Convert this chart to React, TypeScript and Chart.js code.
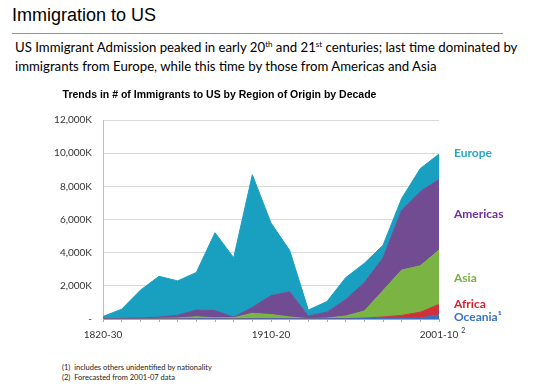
import React, { useEffect, useRef } from 'react';
import { Chart, registerables } from 'chart.js';

Chart.register(...registerables);

// ---- Data (thousands of immigrants per decade) ----
const decades = [
  '1820-30', '1831-40', '1841-50', '1851-60', '1861-70', '1871-80', '1881-90',
  '1891-00', '1901-10', '1910-20', '1921-30', '1931-40', '1941-50', '1951-60',
  '1961-70', '1971-80', '1981-90', '1991-00', '2001-10',
];
const shownTickIdx = [0, 9, 18];
const lastTickNote = '2';

const oceania = [0, 0, 0, 0, 0, 10, 10, 0, 12, 12, 9, 3, 14, 12, 25, 41, 42, 56, 250];
const africa = [0, 0, 0, 0, 0, 0, 0, 0, 7, 8, 6, 2, 7, 14, 29, 81, 176, 355, 630];
const asia = [0, 0, 0, 41, 64, 124, 70, 75, 324, 247, 112, 17, 37, 153, 428, 1588, 2738, 2796, 3280];
const americas = [11, 33, 62, 74, 166, 404, 426, 38, 362, 1144, 1517, 160, 355, 997, 1716, 1983, 3616, 4487, 4265];
const europe = [140, 560, 1670, 2460, 2070, 2270, 4700, 3580, 8000, 4380, 2500, 360, 640, 1320, 1160, 760, 700, 1385, 1525];

const seriesNames = ['Oceania', 'Africa', 'Asia', 'Americas', 'Europe'];
const fillColors = ['#3A6FC0', '#D0303A', '#7AB442', '#714C93', '#19A0C0'];

// right-side series labels
const sideLabels = ['Europe', 'Americas', 'Asia', 'Africa', 'Oceania\u00B9'];
const sideLabelColors = ['#2AA4C8', '#7030A0', '#77B340', '#DB1F2E', '#3A72C2'];
const sideLabelAnchorK = [10000, 6330, 2470, 905, 120];

const tickFont = { family: 'Lato, "Liberation Sans", sans-serif', size: 10 };

const sideLabelPlugin = {
  id: 'sideLabels',
  afterDraw(chart: any) {
    const { ctx, chartArea, scales } = chart;
    ctx.save();
    ctx.font = 'bold 12px Lato, "Liberation Sans", sans-serif';
    ctx.textBaseline = 'middle';
    ctx.textAlign = 'left';
    sideLabels.forEach((t, i) => {
      ctx.fillStyle = sideLabelColors[i];
      ctx.fillText(t, chartArea.right + 15, scales.y.getPixelForValue(sideLabelAnchorK[i]));
    });
    // superscript note on the last x tick label
    ctx.font = '10px Lato, "Liberation Sans", sans-serif';
    const last = decades.length - 1;
    const w = ctx.measureText(decades[last]).width;
    const x = scales.x.getPixelForValue(last) + w / 2 + 3;
    const yMid = scales.x.top + 3 + 7 + 6;
    ctx.font = '7px Lato, "Liberation Sans", sans-serif';
    ctx.fillStyle = '#333';
    ctx.fillText(lastTickNote, x, yMid - 4);
    ctx.restore();
  },
};

function ImmigrationChart() {
  const ref = useRef<HTMLCanvasElement | null>(null);
  useEffect(() => {
    if (!ref.current) return;
    const seriesData = [oceania, africa, asia, americas, europe];
    const chart = new Chart(ref.current, {
      type: 'line',
      data: {
        labels: decades,
        datasets: seriesData.map((d, i) => ({
          label: seriesNames[i],
          data: d,
          backgroundColor: fillColors[i],
          borderColor: fillColors[i],
          borderWidth: 1,
          pointRadius: 0,
          tension: 0,
          fill: i === 0 ? 'origin' : '-1',
        })),
      },
      options: {
        animation: false,
        responsive: false,
        maintainAspectRatio: false,
        layout: { padding: { left: 0, right: 106, top: 0, bottom: 0 } },
        plugins: {
          legend: { display: false },
          tooltip: { enabled: false },
          title: {
            display: true,
            text: 'Trends in # of Immigrants to US by Region of Origin by Decade',
            font: { family: '"Liberation Sans", Arial, sans-serif', size: 10.5, weight: 'bold' },
            color: '#000',
            padding: { top: 9, bottom: 18.5 },
          },
        },
        scales: {
          x: {
            type: 'category',
            offset: false,
            grid: { drawOnChartArea: false, drawTicks: true, tickLength: 3, color: '#a6a6a6' },
            border: { display: true, color: '#a6a6a6' },
            ticks: {
              autoSkip: false,
              maxRotation: 0,
              padding: 7,
              color: '#333',
              font: tickFont,
              callback: (_v: any, i: number) => (shownTickIdx.includes(i) ? decades[i] : ''),
            },
            afterFit: (s: any) => { s.height = 31; },
          },
          y: {
            stacked: true,
            min: 0,
            max: 12000,
            grid: { color: '#d9d9d9', drawTicks: false },
            border: { display: true, color: '#bfbfbf' },
            ticks: {
              stepSize: 2000,
              padding: 11,
              color: '#333',
              font: tickFont,
              callback: (v: any) => (v === 0 ? '-' : Number(v).toLocaleString('en-US') + 'K'),
            },
            afterFit: (s: any) => { s.width = 103; },
          },
        },
      },
      plugins: [sideLabelPlugin],
    } as any);
    return () => chart.destroy();
  }, []);
  return (
    <canvas
      ref={ref}
      width={545}
      height={270}
      style={{ position: 'absolute', left: 0, top: 80, width: 545, height: 270 }}
    />
  );
}

export default function App() {
  return (
    <div
      style={{
        position: 'absolute', left: 0, top: 0, width: 545, height: 388,
        background: '#fff', overflow: 'hidden',
      }}
    >
      <div
        style={{
          position: 'absolute', left: 12, top: 4, fontFamily: '"Liberation Sans", Arial, sans-serif',
          fontSize: 18, lineHeight: '22px', color: '#000', whiteSpace: 'nowrap',
        }}
      >
        Immigration to US
      </div>
      <div style={{ position: 'absolute', left: 12, top: 33, width: 491, height: 1, background: '#6E98DA' }} />
      <div
        style={{
          position: 'absolute', left: 15, top: 37.5, fontFamily: 'Lato, "Liberation Sans", sans-serif',
          fontSize: 13.2, lineHeight: '19px', color: '#000', whiteSpace: 'nowrap',
        }}
      >
        US Immigrant Admission peaked in early 20<sup style={{ fontSize: 8, lineHeight: 0 }}>th</sup> and 21
        <sup style={{ fontSize: 8, lineHeight: 0 }}>st</sup> centuries; last time dominated by
        <br />
        immigrants from Europe, while this time by those from Americas and Asia
      </div>
      <ImmigrationChart />
      <div
        style={{
          position: 'absolute', left: 62, top: 362.5, fontFamily: 'Lato, "Liberation Sans", sans-serif',
          fontSize: 7.5, lineHeight: '10px', color: '#222', whiteSpace: 'nowrap',
        }}
      >
        <div>(1)&nbsp;&nbsp;includes others unidentified by nationality</div>
        <div>(2)&nbsp;&nbsp;Forecasted from 2001-07 data</div>
      </div>
    </div>
  );
}
